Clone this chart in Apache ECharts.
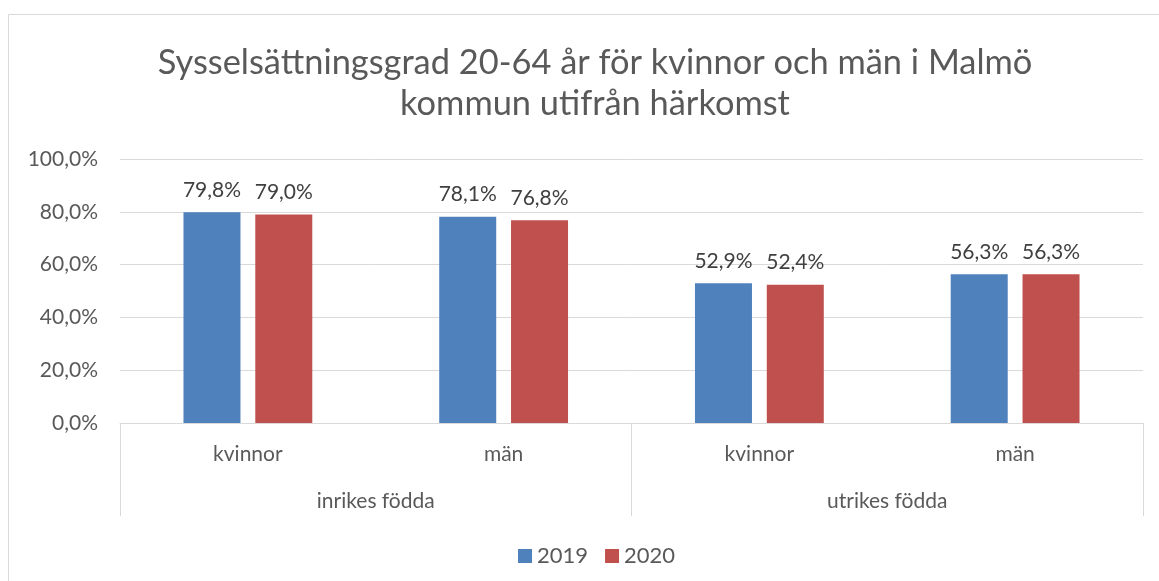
<!DOCTYPE html>
<html>
<head>
<meta charset="utf-8">
<script src="https://cdn.jsdelivr.net/npm/echarts@6/dist/echarts.min.js"></script>
<style>
  html, body { margin: 0; padding: 0; background: #fff; }
  #chart { width: 1159px; height: 581px; }
</style>
</head>
<body>
<div id="chart"></div>
<script>
// data
const categories = ['kvinnor', 'män', 'kvinnor', 'män']
const groups = ['inrikes födda', 'utrikes födda']
const legend = ['2019', '2020']
const values2019 = [79.8, 78.1, 52.9, 56.3]
const values2020 = [79.0, 76.8, 52.4, 56.3]

const font = 'Lato, "Open Sans", sans-serif'
const pct = v => v.toFixed(1).replace('.', ',') + '%'

const chart = echarts.init(document.getElementById('chart'))

function barSeries(name, data, color) {
  return {
    name: name,
    type: 'bar',
    data: data,
    barWidth: 57,
    barGap: '26%',
    itemStyle: { color: color },
    label: {
      show: true,
      position: 'top',
      distance: 12,
      color: '#404040',
      fontFamily: font,
      fontSize: 21,
      formatter: p => pct(p.value)
    },
    animation: false
  }
}

chart.setOption({
  textStyle: { fontFamily: font },
  title: {
    text: 'Sysselsättningsgrad 20-64 år för kvinnor och män i Malmö\nkommun utifrån härkomst',
    left: 590,
    top: 37,
    textAlign: 'center',
    textStyle: {
      color: '#595959',
      fontFamily: font,
      fontSize: 34.4,
      fontWeight: 'normal',
      lineHeight: 41
    }
  },
  legend: {
    data: legend,
    top: 540,
    left: 513,
    itemWidth: 14,
    itemHeight: 14,
    itemGap: 17,
    icon: 'rect',
    textStyle: { color: '#595959', fontSize: 22, fontFamily: font }
  },
  grid: {
    left: 120,
    right: 16,
    top: 159,
    bottom: 158
  },
  xAxis: [
    {
      type: 'category',
      data: categories,
      axisLine: { lineStyle: { color: '#d9d9d9', width: 1 } },
      axisTick: { show: false },
      axisLabel: { color: '#595959', fontSize: 21, margin: 21 }
    },
    {
      type: 'category',
      data: groups,
      position: 'bottom',
      axisLine: { show: false },
      axisTick: { show: true, length: 93, lineStyle: { color: '#d9d9d9', width: 1 } },
      axisLabel: { color: '#595959', fontSize: 21, margin: 68 }
    }
  ],
  yAxis: {
    type: 'value',
    min: 0,
    max: 100,
    interval: 20,
    axisLine: { show: false },
    axisTick: { show: false },
    splitLine: { lineStyle: { color: '#d9d9d9', width: 1 } },
    axisLabel: {
      color: '#595959',
      fontSize: 21,
      margin: 22,
      formatter: v => pct(v)
    }
  },
  graphic: [
    {
      type: 'polyline',
      shape: { points: [[8.5, 581], [8.5, 14.5], [1159, 14.5]] },
      style: { stroke: '#d9d9d9', lineWidth: 1, fill: null },
      silent: true
    }
  ],
  series: [
    barSeries(legend[0], values2019, '#4F81BD'),
    barSeries(legend[1], values2020, '#C0504D')
  ]
})
</script>
</body>
</html>
